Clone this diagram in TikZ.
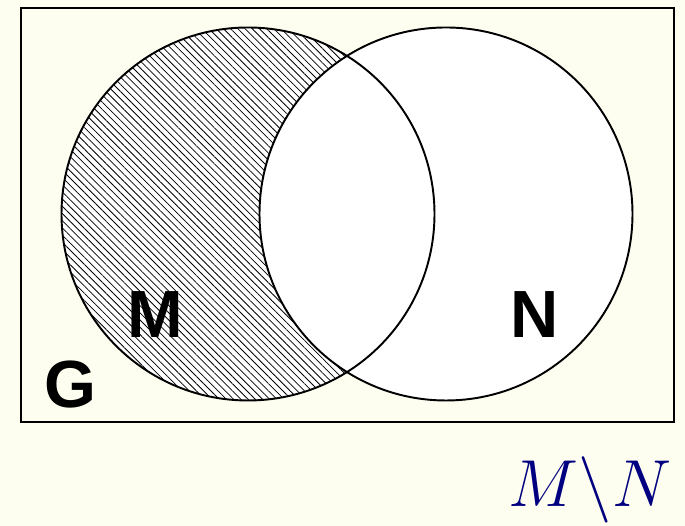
\documentclass[tikz,border=0pt]{standalone}
\usepackage{fontspec}
\newfontfamily\labelfont{Liberation Sans}
\usepackage{tikz}
\usetikzlibrary{patterns,patterns.meta,positioning,calc}
\definecolor{paper}{HTML}{FEFEF0}
\definecolor{mathblue}{HTML}{000080}

\begin{document}
\begin{tikzpicture}
    \tikzset{set/.style={draw, circle, line width=1.1pt, minimum size=7.46cm, inner sep=0pt},
             setname/.style={font=\labelfont\bfseries\fontsize{38}{40}\selectfont}}
    %background
    \fill[paper] (0,0) rectangle (13.7,10.52);
    \useasboundingbox (0,0) rectangle (13.7,10.52);

    %coordinates
    \coordinate (cM) at (4.96,6.24);
    \coordinate (cN) at (8.92,6.24);

    %universe
    \node[draw, line width=1pt, fill=paper, minimum width=13.06cm, minimum height=8.28cm, anchor=north west, inner sep=0pt] (G) at (0.4,10.38) {};

    %sets
    \fill[white] (cM) circle (3.73);
    \fill[pattern={Lines[angle=-45, distance=2.9pt, line width=0.45pt]}] (cM) circle (3.73);
    \node[set, fill=white] (N) at (cN) {};
    \node[set] (M) at (cM) {};

    %labels
    \node[setname] (lM) at (3.1,4.22) {M};
    \node[setname] (lN) at (10.7,4.22) {N};
    \node[setname] (lG) at (1.4,2.82) {G};

    \node[text=mathblue, font=\fontsize{24.88}{30}\selectfont, scale=1.52, transform shape] (diff) at (11.8,0.72) {$M\backslash N$};
\end{tikzpicture}
\end{document}
